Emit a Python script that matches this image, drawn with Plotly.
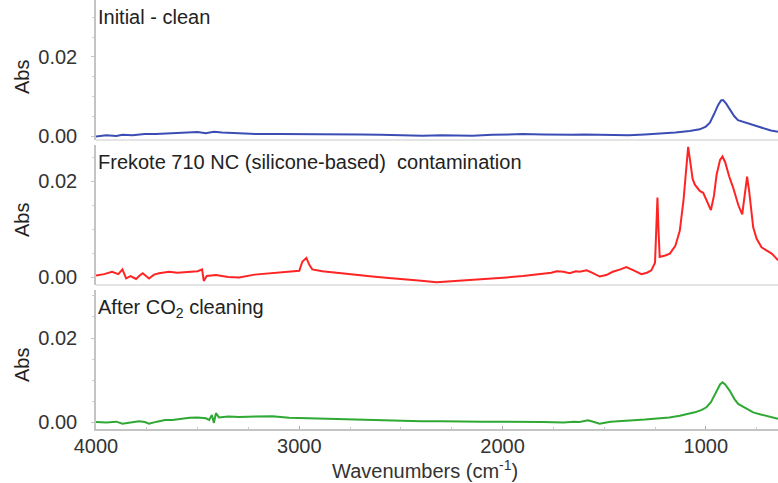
import plotly.graph_objects as go

# ---- data (wavenumber cm-1, absorbance) ----
blue_wn = [4000, 3950, 3900, 3870, 3820, 3760, 3705, 3650, 3600, 3540, 3500, 3460, 3420, 3380,
           3300, 3212, 3100, 3000, 2887, 2803, 2700, 2600, 2500, 2394, 2300, 2200, 2148, 2050,
           1950, 1901, 1800, 1700, 1655, 1600, 1522, 1450, 1380, 1300, 1230, 1150, 1080, 1030,
           1000, 980, 960, 940, 925, 915, 900, 880, 860, 842, 800, 768, 720, 680, 645]
blue_abs = [-0.0001, 0.0002, 0.0000, 0.0003, 0.0002, 0.0005, 0.0005, 0.0006, 0.0008, 0.0008,
            0.0010, 0.0007, 0.0011, 0.0009, 0.0007, 0.0005, 0.0005, 0.0005, 0.0005, 0.0005,
            0.0004, 0.0003, 0.0002, 0.0001, 0.0002, 0.0001, 0.0001, 0.0003, 0.0004, 0.0005,
            0.0004, 0.0003, 0.0003, 0.0004, 0.0003, 0.0002, 0.0002, 0.0004, 0.0006, 0.0009,
            0.0013, 0.0017, 0.0024, 0.0034, 0.0055, 0.0078, 0.0090, 0.0091, 0.0082, 0.0065,
            0.0050, 0.0040, 0.0033, 0.0028, 0.0020, 0.0014, 0.0011]

red_wn = [4000, 3960, 3921, 3890, 3870, 3852, 3830, 3803, 3785, 3770, 3739, 3715, 3690, 3640,
          3600, 3540, 3500, 3478, 3470, 3455, 3410, 3350, 3296, 3220, 3133, 3050, 3000, 2985,
          2965, 2950, 2936, 2887, 2803, 2720, 2640, 2560, 2473, 2400, 2325, 2250, 2148, 2060,
          1980, 1900, 1818, 1760, 1734, 1700, 1670, 1640, 1621, 1586, 1555, 1522, 1490, 1458,
          1420, 1391, 1350, 1317, 1290, 1268, 1250, 1242, 1238, 1234, 1230, 1227, 1200, 1177,
          1150, 1128, 1110, 1095, 1087, 1078, 1065, 1054, 1030, 1013, 995, 975, 960, 947, 930,
          918, 905, 885, 865, 840, 821, 810, 797, 787, 775, 767, 750, 726, 700, 676, 660, 645]
red_abs = [0.0003, 0.0006, 0.0011, 0.0006, 0.0016, -0.0003, 0.0002, -0.0004, 0.0003, 0.0008,
           -0.0003, 0.0005, 0.0008, 0.0011, 0.0009, 0.0011, 0.0012, 0.0016, -0.0008, 0.0002,
           0.0004, 0.0000, -0.0001, 0.0005, 0.0008, 0.0011, 0.0013, 0.0032, 0.0040, 0.0025,
           0.0016, 0.0012, 0.0008, 0.0005, 0.0001, -0.0002, -0.0006, -0.0008, -0.0011, -0.0009,
           -0.0006, -0.0003, -0.0001, 0.0002, 0.0006, 0.0009, 0.0012, 0.0011, 0.0008, 0.0012,
           0.0011, 0.0014, 0.0008, 0.0001, 0.0004, 0.0011, 0.0016, 0.0021, 0.0013, 0.0006,
           0.0009, 0.0014, 0.0030, 0.0120, 0.0166, 0.0110, 0.0060, 0.0042, 0.0045, 0.0049,
           0.0065, 0.0097, 0.0160, 0.0240, 0.0272, 0.0245, 0.0205, 0.0193, 0.0180, 0.0176,
           0.0160, 0.0140, 0.0170, 0.0214, 0.0245, 0.0252, 0.0240, 0.0210, 0.0186, 0.0150,
           0.0131, 0.0170, 0.0210, 0.0180, 0.0130, 0.0104, 0.0080, 0.0062, 0.0055, 0.0049,
           0.0042, 0.0035]

green_wn = [4000, 3950, 3900, 3870, 3830, 3788, 3760, 3739, 3700, 3660, 3624, 3580, 3540, 3500,
            3460, 3443, 3430, 3420, 3410, 3395, 3350, 3296, 3220, 3133, 3050, 2970, 2887, 2800,
            2700, 2600, 2500, 2400, 2300, 2200, 2100, 2000, 1900, 1800, 1700, 1650, 1621, 1580,
            1550, 1522, 1470, 1420, 1374, 1300, 1227, 1180, 1128, 1090, 1054, 1020, 997, 975,
            960, 947, 930, 918, 905, 882, 860, 841, 800, 767, 730, 701, 670, 645]
green_abs = [0.0001, 0.0000, 0.0002, -0.0003, 0.0000, 0.0003, 0.0001, -0.0003, 0.0002, 0.0006,
             0.0006, 0.0009, 0.0011, 0.0012, 0.0010, 0.0006, 0.0018, -0.0001, 0.0022, 0.0012,
             0.0014, 0.0013, 0.0014, 0.0015, 0.0011, 0.0010, 0.0009, 0.0008, 0.0006, 0.0005,
             0.0004, 0.0003, 0.0003, 0.0002, 0.0002, 0.0002, 0.0002, 0.0001, 0.0000, 0.0002,
             0.0001, 0.0005, 0.0001, -0.0003, 0.0002, 0.0004, 0.0005, 0.0007, 0.0009, 0.0012,
             0.0016, 0.0020, 0.0024, 0.0030, 0.0036, 0.0048, 0.0062, 0.0075, 0.0090, 0.0095,
             0.0090, 0.0075, 0.0056, 0.0044, 0.0032, 0.0024, 0.0019, 0.0016, 0.0012, 0.0009]

panel_titles = ["Initial - clean",
                "Frekote 710 NC (silicone-based)&nbsp; contamination",
                "After CO<sub>2</sub> cleaning"]
x_title = "Wavenumbers (cm<sup>-1</sup>)"
x_ticks = [4000, 3000, 2000, 1000]
y_ticks = [0.00, 0.02]
y_labels = ["0.00", "0.02"]

FONT = "Liberation Sans, Arial, sans-serif"
FS = 20
W, H = 778, 483
ML, MR, MT, MB = 96, 0, 0, 54
ph = H - MT - MB  # 429
pw = W - ML - MR

def dom(top_px, bot_px):
    return [(ph - bot_px) / ph, (ph - top_px) / ph]

d1 = dom(0, 140)
d2 = dom(145, 285)
d3 = dom(290, 429)

fig = go.Figure()
fig.add_trace(go.Scatter(x=blue_wn, y=blue_abs, mode="lines", xaxis="x", yaxis="y",
                         line=dict(color="#3b4db3", width=2), showlegend=False))
fig.add_trace(go.Scatter(x=red_wn, y=red_abs, mode="lines", xaxis="x", yaxis="y2",
                         line=dict(color="#ff2424", width=2), showlegend=False))
fig.add_trace(go.Scatter(x=green_wn, y=green_abs, mode="lines", xaxis="x", yaxis="y3",
                         line=dict(color="#2fa834", width=2), showlegend=False))

yax_common = dict(showgrid=False, zeroline=False, showline=True, linecolor="#c4c4c4",
                  linewidth=1.5, ticks="outside", ticklen=3, tickcolor="#c4c4c4",
                  tickvals=y_ticks, ticktext=y_labels, automargin=False,
                  tickfont=dict(family=FONT, size=FS, color="#333333"),
                  ticklabelstandoff=10,
                  minor=dict(dtick=0.005, ticks="outside", ticklen=2, tickcolor="#d0d0d0"))

fig.update_layout(
    width=W, height=H,
    margin=dict(l=ML, r=MR, t=MT, b=MB),
    paper_bgcolor="white", plot_bgcolor="white",
    font=dict(family=FONT, size=FS, color="#222222"),
    xaxis=dict(range=[4000, 645], anchor="y3", showgrid=False, zeroline=False,
               showline=True, linecolor="#c4c4c4", linewidth=2, automargin=False,
               ticks="inside", ticklen=3, tickcolor="#aaaaaa",
               tickvals=x_ticks, tickfont=dict(family=FONT, size=FS, color="#333333"),
               ticklabelstandoff=-2,
               minor=dict(dtick=250, ticks="inside", ticklen=2, tickcolor="#cccccc")),
    yaxis=dict(domain=d1, range=[-0.001, 0.0344], **yax_common),
    yaxis2=dict(domain=d2, range=[-0.00167, 0.0276], **yax_common),
    yaxis3=dict(domain=d3, range=[-0.00154, 0.03136], **yax_common),
)

# light separator lines under upper panels
for d in (d1, d2):
    fig.add_shape(type="line", xref="paper", yref="paper", x0=0, x1=1, y0=d[0], y1=d[0],
                  line=dict(color="#e4e4e4", width=2))

# panel titles
for title, d in zip(panel_titles, (d1, d2, d3)):
    fig.add_annotation(text=title, xref="paper", yref="paper", x=0.0, y=d[1],
                       xanchor="left", yanchor="top", yshift=-4, showarrow=False,
                       font=dict(family=FONT, size=FS, color="#222222"))

# "Abs" labels
for ypx in (77, 220, 365):
    fig.add_annotation(text="Abs", xref="paper", yref="paper",
                       x=-(ML - 22) / pw, y=(ph - ypx) / ph,
                       xanchor="center", yanchor="middle", textangle=-90, showarrow=False,
                       font=dict(family=FONT, size=FS, color="#222222"))

# x-axis title
fig.add_annotation(text=x_title, xref="paper", yref="paper",
                   x=(425 - ML) / pw, y=-(483 - ph) / ph,
                   xanchor="center", yanchor="bottom", showarrow=False, borderpad=0,
                   font=dict(family=FONT, size=FS, color="#333333"))

fig.write_html("out.html", config={"displayModeBar": False},
               post_script="document.body.style.margin='0';"
                           "document.body.style.overflow='hidden';")
